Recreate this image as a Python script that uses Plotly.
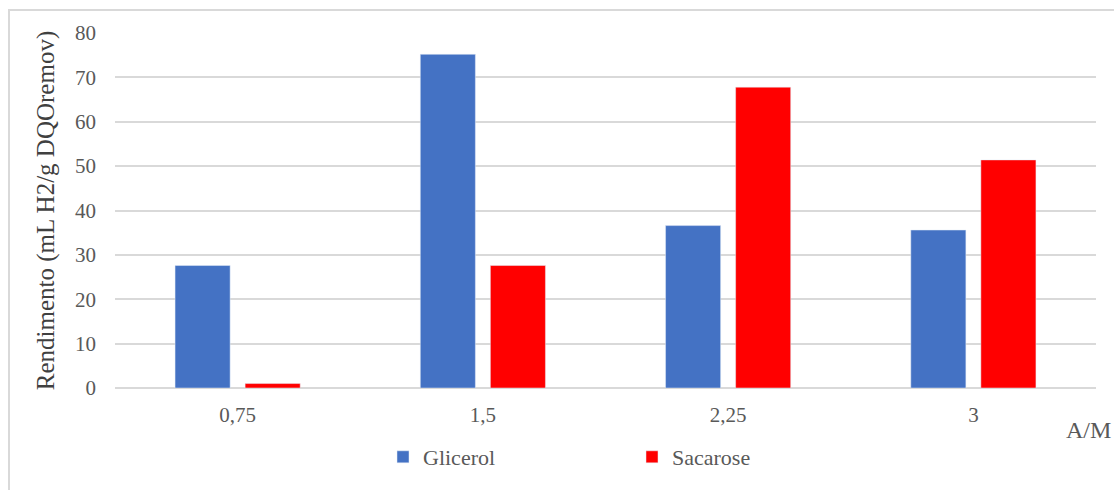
import plotly.graph_objects as go

# A/M ratios and hydrogen yield per substrate
categorias = ["0,75", "1,5", "2,25", "3"]
glicerol = [27.6, 75.2, 36.6, 35.6]
sacarose = [1.0, 27.6, 67.8, 51.4]

W, H = 1114, 490
L, R, T, B = 115, 18, 33, 102
pw, ph = W - L - R, H - T - B

FONT = "Liberation Serif"
GRAY = "#595959"
GRID = "#d9d9d9"

fig = go.Figure()
fig.add_trace(go.Bar(name="Glicerol", x=categorias, y=glicerol, marker_color="#4472C4"))
fig.add_trace(go.Bar(name="Sacarose", x=categorias, y=sacarose, marker_color="#FF0000"))

fig.update_layout(
    width=W, height=H,
    margin=dict(l=L, r=R, t=T, b=B),
    paper_bgcolor="white", plot_bgcolor="white",
    barmode="group", bargap=0.4286, bargroupgap=0.214,
    font=dict(family=FONT, size=21, color=GRAY),
    legend=dict(
        orientation="h", x=(383 - L) / pw, y=(H - B - 457) / ph,
        xanchor="left", yanchor="middle",
        entrywidth=204, entrywidthmode="pixels",
        font=dict(family=FONT, size=22, color=GRAY),
        bgcolor="rgba(0,0,0,0)",
    ),
    showlegend=True,
)

fig.update_xaxes(
    type="category", showgrid=False, showline=False, zeroline=False,
    ticks="", ticklabelstandoff=12,
    tickfont=dict(family=FONT, size=21, color=GRAY),
)
fig.update_yaxes(
    range=[0, 80], dtick=10, showgrid=True, gridcolor=GRID, gridwidth=1.5,
    zeroline=True, zerolinecolor=GRID, zerolinewidth=1.5, showline=False,
    ticks="", ticklabelstandoff=18,
    tickfont=dict(family=FONT, size=21, color=GRAY),
    title=dict(text="Rendimento (mL H2/g DQOremov)",
               font=dict(family=FONT, size=25, color="#404040"), standoff=13),
)

# x-axis name at the right end, below the axis
fig.add_annotation(
    text="A/M", xref="paper", yref="paper",
    x=(1088 - L) / pw, y=(H - B - 430) / ph,
    xanchor="center", yanchor="middle", showarrow=False,
    font=dict(family=FONT, size=24, color=GRAY),
)

# light frame around the chart area
fig.add_shape(
    type="rect", xref="paper", yref="paper",
    x0=(9 - L) / pw, x1=(1125 - L) / pw,
    y0=(H - B - 500) / ph, y1=(H - B - 10) / ph,
    line=dict(color=GRID, width=2), fillcolor="rgba(0,0,0,0)", layer="below",
)

fig.write_html("out.html")
